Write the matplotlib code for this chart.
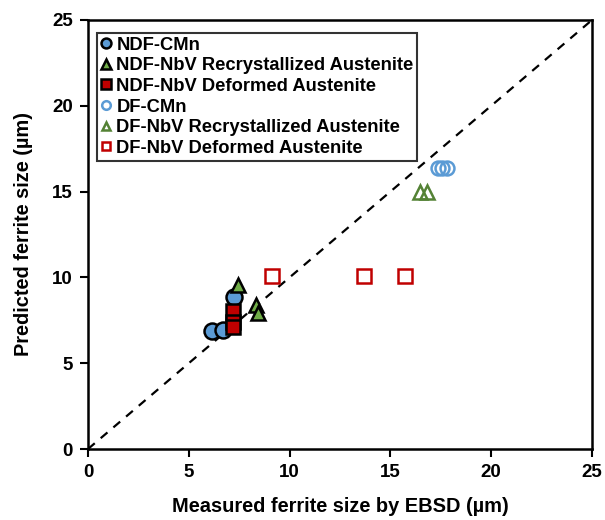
import matplotlib
matplotlib.use("Agg")
import matplotlib.pyplot as plt

plt.rcParams['font.family'] = ['Liberation Sans', 'DejaVu Sans']
plt.rcParams['font.weight'] = 'bold'

# Measured (EBSD) vs predicted ferrite size, µm
ndf_cmn_x = [6.15, 6.7, 7.25]
ndf_cmn_y = [6.9, 6.95, 8.85]
ndf_rec_x = [7.45, 8.35, 8.45]
ndf_rec_y = [9.55, 8.4, 7.95]
ndf_def_x = [7.2, 7.2, 7.2]
ndf_def_y = [8.05, 7.4, 7.1]
df_cmn_x = [17.35, 17.55, 17.8]
df_cmn_y = [16.35, 16.35, 16.35]
df_rec_x = [16.45, 16.8]
df_rec_y = [15.0, 15.0]
df_def_x = [9.15, 13.7, 15.7]
df_def_y = [10.1, 10.1, 10.1]

ticks = [0, 5, 10, 15, 20, 25]

blue = '#5B9BD5'
green = '#70AD47'
dgreen = '#548235'
red = '#C00000'

fig = plt.figure(figsize=(6.05, 5.2), dpi=100)
ax = fig.add_axes([88/605, 1-449/520, 504/605, 429/520])

ax.plot([0, 25], [0, 25], color='black', linestyle=(0, (4, 3.5)), linewidth=1.6, zorder=1)

ax.plot(ndf_cmn_x, ndf_cmn_y, 'o', ms=11.5, mfc=blue, mec='black', mew=1.8, ls='none', label='NDF-CMn', zorder=3)
ax.plot(ndf_rec_x, ndf_rec_y, '^', ms=10.5, mfc=green, mec='black', mew=1.8, ls='none', label='NDF-NbV Recrystallized Austenite', zorder=3)
ax.plot(ndf_def_x, ndf_def_y, 's', ms=10.5, mfc=red, mec='black', mew=1.8, ls='none', label='NDF-NbV Deformed Austenite', zorder=3)
ax.plot(df_cmn_x, df_cmn_y, 'o', ms=10, mfc='none', mec=blue, mew=1.8, ls='none', label='DF-CMn', zorder=3)
ax.plot(df_rec_x, df_rec_y, '^', ms=10, mfc='none', mec=dgreen, mew=1.8, ls='none', label='DF-NbV Recrystallized Austenite', zorder=3)
ax.plot(df_def_x, df_def_y, 's', ms=10, mfc='none', mec=red, mew=1.8, ls='none', label='DF-NbV Deformed Austenite', zorder=3)

ax.set_xlim(0, 25)
ax.set_ylim(0, 25)
ax.set_xticks(ticks)
ax.set_yticks(ticks)
ax.set_xticklabels([str(t) for t in ticks], fontsize=13.5, fontweight='bold')
ax.set_yticklabels([str(t) for t in ticks], fontsize=13.5, fontweight='bold')
ax.tick_params(direction='out', length=6, width=1.5, pad=5)
for s in ax.spines.values():
    s.set_linewidth(1.8)

ax.set_xlabel('Measured ferrite size by EBSD (µm)', fontsize=14.4, fontweight='bold', labelpad=11)
ax.set_ylabel('Predicted ferrite size (µm)', fontsize=14.4, fontweight='bold', labelpad=14)

leg = ax.legend(loc='upper left', bbox_to_anchor=(0.018, 0.970),
                prop={'weight': 'bold', 'size': 13.2}, frameon=True, fancybox=False,
                edgecolor='black', handlelength=0.6, handletextpad=0.25,
                borderpad=0.2, labelspacing=0.2, markerscale=0.62, borderaxespad=0)
leg.get_frame().set_linewidth(1.5)

fig.savefig('out.png', dpi=100)
